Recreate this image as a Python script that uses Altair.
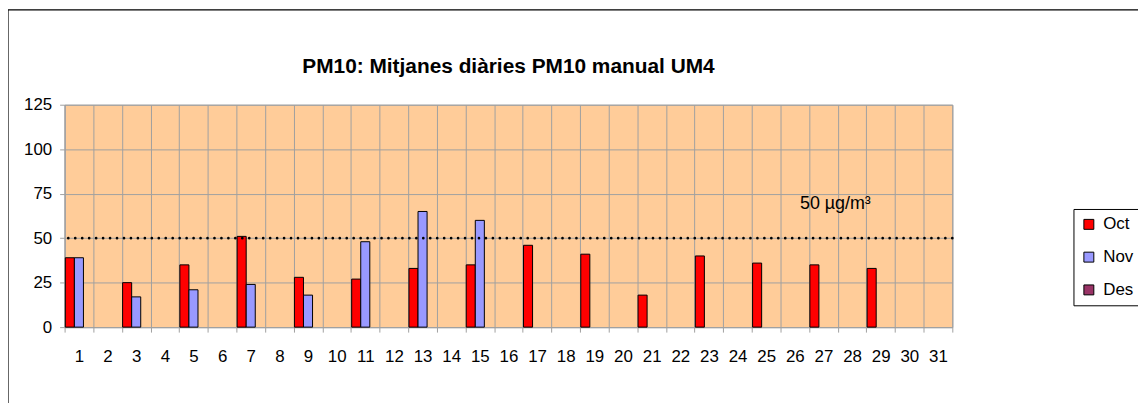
import altair as alt
import pandas as pd

days = [str(d) for d in range(1, 32)]
series = ["Oct", "Nov", "Des"]
colors = ["#FF0000", "#9999FF", "#993366"]

oct_days = [1, 3, 5, 7, 9, 11, 13, 15, 17, 19, 21, 23, 25, 27, 29]
oct_vals = [39, 25, 35, 51, 28, 27, 33, 35, 46, 41, 18, 40, 36, 35, 33]
nov_days = [1, 3, 5, 7, 9, 11, 13, 15]
nov_vals = [39, 17, 21, 24, 18, 48, 65, 60]

limit_value = 50
limit_label = "50 µg/m³"
label_day = "27"
label_value = 69
title_text = "PM10: Mitjanes diàries PM10 manual UM4"

rows = [{"day": str(d), "serie": "Oct", "value": v} for d, v in zip(oct_days, oct_vals)]
rows += [{"day": str(d), "serie": "Nov", "value": v} for d, v in zip(nov_days, nov_vals)]
df = pd.DataFrame(rows)

FONT = "Liberation Sans"
W, H = 894, 224

x_enc = alt.X("day:O", sort=days, scale=alt.Scale(domain=days, paddingInner=0, paddingOuter=0),
              axis=alt.Axis(title=None, labelAngle=0, tickBand="extent", grid=True))
y_scale = alt.Scale(domain=[0, 125], nice=False)

bars = alt.Chart(df).mark_bar(stroke="black", strokeWidth=1).encode(
    x=x_enc,
    xOffset=alt.XOffset("serie:N", sort=series,
                        scale=alt.Scale(domain=series, paddingOuter=0.08, paddingInner=0)),
    y=alt.Y("value:Q", scale=y_scale,
            axis=alt.Axis(title=None, values=[0, 25, 50, 75, 100, 125], grid=True)),
    color=alt.Color("serie:N", sort=series,
                    scale=alt.Scale(domain=series, range=colors),
                    legend=alt.Legend(title=None, orient="none", legendX=1016, legendY=105,
                                      symbolType="square", symbolSize=100,
                                      symbolStrokeColor="black", symbolStrokeWidth=1,
                                      labelFontSize=17, labelFont=FONT, labelColor="black",
                                      rowPadding=15, padding=7, strokeColor="black",
                                      fillColor="white", labelOffset=6)),
)

rule = alt.Chart(pd.DataFrame({"y": [limit_value]})).mark_rule(
    color="black", strokeWidth=2.7, strokeDash=[0.01, 7], strokeCap="round"
).encode(y=alt.Y("y:Q", scale=y_scale))

label = alt.Chart(pd.DataFrame({"day": [label_day], "v": [label_value], "t": [limit_label]})).mark_text(
    font=FONT, fontSize=18, color="black", align="center", baseline="middle", dx=12
).encode(x=alt.X("day:O", sort=days, scale=alt.Scale(domain=days)),
         y=alt.Y("v:Q", scale=y_scale), text="t:N")

title = alt.Chart(pd.DataFrame({"t": [title_text]})).mark_text(
    font=FONT, fontSize=21, fontWeight="bold", color="black", align="center", baseline="alphabetic"
).encode(x=alt.value(W / 2), y=alt.value(-32), text="t:N")

frame = alt.Chart(pd.DataFrame({"a": [0]})).mark_rect(
    fill=None, stroke="black", strokeWidth=1.2
).encode(x=alt.value(-57), y=alt.value(-95.5), x2=alt.value(3000), y2=alt.value(3000))

chart = alt.layer(frame, bars, rule, label, title).properties(
    width=W, height=H,
    autosize=alt.AutoSizeParams(type="none"),
    padding={"left": 57, "top": 96, "right": 187, "bottom": 75},
    background="white",
).configure_view(
    fill="#FFCC99", stroke="#A0A0A0", strokeWidth=1
).configure_axis(
    gridColor="#A0A0A0", gridWidth=1, gridOpacity=1,
    domainColor="#A0A0A0", tickColor="#A0A0A0", tickSize=5,
    labelFont=FONT, labelFontSize=17, labelColor="black",
).configure_axisX(
    labelPadding=17,
).configure_axisY(
    labelPadding=8,
)

chart.save("out.html", embed_options={"renderer": "svg", "actions": False})
